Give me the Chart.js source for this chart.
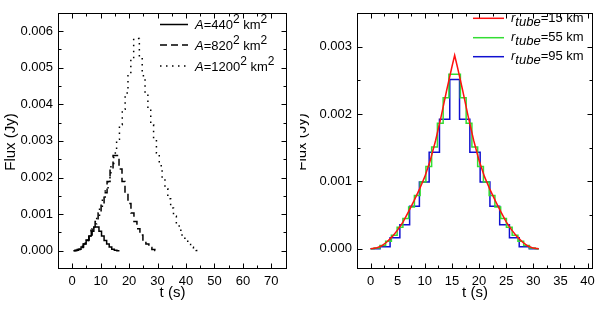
<!DOCTYPE html>
<html><head><meta charset="utf-8">
<script src="https://cdn.jsdelivr.net/npm/chart.js@4/dist/chart.umd.min.js"></script>
<style>
html,body{margin:0;padding:0;background:#fff;}
#wrap{position:relative;width:600px;height:310px;overflow:hidden;}
.pane{position:absolute;top:0;width:300px;height:310px;}
</style></head><body>
<div id="wrap">
<div class="pane" style="left:0"><canvas id="c1" width="300" height="310"></canvas></div>
<div class="pane" style="left:300px"><canvas id="c2" width="300" height="310"></canvas></div>
</div>
<script>
// ---------------- Left panel data ----------------
const areaSides = [440, 820, 1200];
const tSolid = [0.4,1.3,2.2,3.1,4.0,4.9,5.8,6.7,7.6,8.5,9.4,10.3,11.2,12.1,13.0,13.9,14.8,15.7,16.6];
const fSolid = [0,0.00001,0.00004,0.0001,0.00018,0.00028,0.0004,0.00053,0.00065,0.00065,0.00053,0.0004,0.00028,0.00018,0.0001,0.00004,0.00001,0,0];
const tDashed = [0.7,1.75,2.8,3.85,4.9,5.95,7.0,8.05,9.1,10.15,11.2,12.25,13.3,14.35,15.4,16.45,17.5,18.55,19.6,20.65,21.7,22.75,23.8,24.85,25.9,26.95,28.0,29.05,30.1];
const fDashed = [0.000004,0.00003,0.00009,0.00018,0.00029,0.00043,0.0006,0.0008,0.00103,0.00129,0.00158,0.00189,0.00223,0.0026,0.0026,0.00223,0.00189,0.00158,0.00129,0.00103,0.0008,0.0006,0.00043,0.00029,0.00018,0.00009,0.00003,0.000004,0];
const tDotted = [0.6,1.6,2.6,3.6,4.6,5.6,6.6,7.6,8.6,9.6,10.6,11.6,12.6,13.6,14.6,15.6,16.6,17.6,18.6,19.6,20.6,21.6,22.6,23.6,24.6,25.6,26.6,27.6,28.6,29.6,30.6,31.6,32.6,33.6,34.6,35.6,36.6,37.6,38.6,39.6,40.6,41.6,42.6,43.6,44.6];
const fDotted = [0.000007,0.000038,0.000093,0.000172,0.000277,0.000405,0.000559,0.000736,0.000939,0.001165,0.001417,0.001693,0.001993,0.002318,0.002667,0.003042,0.00344,0.003864,0.00431,0.004782,0.005279,0.0058,
                 0.0058,0.005279,0.004782,0.00431,0.003864,0.00344,0.003042,0.002667,0.002318,0.001993,0.001693,0.001417,0.001165,0.000939,0.000736,0.000559,0.000405,0.000277,0.000172,0.000093,0.000038,0.000007,0];
const leftXTicks = [0,10,20,30,40,50,60,70];
const leftYTicks = [0,0.001,0.002,0.003,0.004,0.005,0.006];

// ---------------- Right panel data ----------------
const tubeRadii = [15, 55, 95];
const tRed = [0,1,2,3,4,5,6,7,8,9,10,11,12,13,14,15,15.5,16,17,18,19,20,21,22,23,24,25,26,27,28,29,30,31];
const fRed = [0,0.00001,0.00004,0.0001,0.00018,0.00028,0.0004,0.00055,0.00071,0.00088,0.00107,0.00131,0.00161,0.00196,0.00234,0.0027,0.00287,0.0027,0.00234,0.00196,0.00161,0.00131,0.00107,0.00088,0.00071,0.00055,0.0004,0.00028,0.00018,0.0001,0.00004,0.00001,0];
const tGreen = [0,0.66,1.72,2.78,3.84,4.9,5.96,7.02,8.08,9.14,10.2,11.26,12.32,13.38,14.44,15.5,16.56,17.62,18.68,19.74,20.8,21.86,22.92,23.98,25.04,26.1,27.16,28.22,29.28,30.34,31];
const fGreen = [0,0.00001,0.00005,0.00011,0.0002,0.00032,0.00045,0.00062,0.00079,0.00099,0.00122,0.00151,0.00186,0.00224,0.00259,0.00259,0.00224,0.00186,0.00151,0.00122,0.00099,0.00079,0.00062,0.00045,0.00032,0.0002,0.00011,0.00005,0.00001,0,0];
const tBlue = [0,1.75,3.6,5.4,7.2,9.0,10.8,12.7,14.6,16.4,18.3,20.2,22.0,23.8,25.6,27.4,29.25,31];
const fBlue = [0,0.00003,0.000165,0.000355,0.00063,0.00099,0.00143,0.00192,0.00251,0.00192,0.00143,0.00099,0.00063,0.000355,0.000165,0.00003,0,0];
const rightXTicks = [0,5,10,15,20,25,30,35,40];
const rightYTicks = [0,0.001,0.002,0.003];

const FONT = "'Liberation Sans', Arial, sans-serif";
const pts = (ts, fs) => ts.map((t, i) => ({x: t, y: fs[i]}));

function drawRich(ctx, x, y, parts, size) {
  let cx = x;
  for (const p of parts) {
    const fs = p.sup ? size - 1 : size;
    ctx.font = (p.it ? 'italic ' : '') + fs + 'px ' + FONT;
    const dy = p.sup ? -5.5 : (p.sub ? 4 : 0);
    ctx.fillText(p.t, cx, y + dy);
    cx += ctx.measureText(p.t).width;
  }
}

const framePlugin = {
  id: 'frame',
  afterDatasetsDraw(chart, args, o) {
    const {ctx, chartArea: a, scales: {x, y}} = chart;
    ctx.save();
    ctx.strokeStyle = '#000';
    ctx.fillStyle = '#000';
    ctx.lineWidth = 1;
    const L = Math.round(a.left) + 0.5, R = Math.round(a.right) - 0.5;
    const T = Math.round(a.top) + 0.5, B = Math.round(a.bottom) - 0.5;
    ctx.strokeRect(L, T, R - L, B - T);
    const tick = (vals, len, horiz) => {
      ctx.beginPath();
      for (const v of vals) {
        if (horiz) {
          const px = Math.round(x.getPixelForValue(v)) + 0.5;
          if (px <= L + 1 || px >= R - 1) continue;
          ctx.moveTo(px, B); ctx.lineTo(px, B - len);
          ctx.moveTo(px, T); ctx.lineTo(px, T + len);
        } else {
          const py = Math.round(y.getPixelForValue(v)) + 0.5;
          if (py <= T + 1 || py >= B - 1) continue;
          ctx.moveTo(L, py); ctx.lineTo(L + len, py);
          ctx.moveTo(R, py); ctx.lineTo(R - len, py);
        }
      }
      ctx.stroke();
    };
    const minors = (maj, lo, hi) => {
      const step = maj[1] - maj[0], out = [];
      for (let i = -1; i < maj.length; i++) {
        const v = (i < 0 ? maj[0] - step : maj[i]) + step / 2;
        if (v > lo && v < hi) out.push(v);
      }
      return out;
    };
    tick(o.xTicks, 5, true);
    tick(minors(o.xTicks, x.min, x.max), 3, true);
    tick(o.yTicks, 5, false);
    tick(minors(o.yTicks, y.min, y.max), 3, false);

    // axis titles
    ctx.font = '15px ' + FONT;
    ctx.textBaseline = 'alphabetic';
    ctx.textAlign = 'center';
    ctx.fillText('t (s)', (a.left + a.right) / 2, 297);
    ctx.save();
    ctx.translate(o.yTitleX, 142);
    ctx.rotate(-Math.PI / 2);
    ctx.fillText('Flux (Jy)', 0, 0);
    ctx.restore();

    // legend
    ctx.textAlign = 'left';
    ctx.textBaseline = 'middle';
    chart.data.datasets.forEach((ds, i) => {
      const ly = o.legY[i];
      ctx.save();
      ctx.strokeStyle = ds.borderColor;
      ctx.lineWidth = ds.borderWidth;
      ctx.setLineDash(ds.borderDash || []);
      ctx.beginPath();
      ctx.moveTo(o.legX0, ly); ctx.lineTo(o.legX1, ly);
      ctx.stroke();
      ctx.restore();
      ctx.fillStyle = '#000';
      drawRich(ctx, o.legTX, ly + o.legDy, o.legParts(i), 13);
    });
    ctx.restore();
  }
};

function axes(xmin, xmax, xt, ymin, ymax, yt, yw) {
  const tickFont = {family: FONT, size: 13};
  const grid = {display: false, drawTicks: false, tickLength: 0};
  return {
    x: {type: 'linear', min: xmin, max: xmax,
        grid: grid, border: {display: false},
        ticks: {color: '#000', font: tickFont, padding: 5, maxRotation: 0, autoSkip: false,
                callback: v => String(v)},
        afterBuildTicks: s => { s.ticks = xt.map(v => ({value: v})); },
        afterFit: s => { s.height = 41; }},
    y: {type: 'linear', min: ymin, max: ymax,
        grid: grid, border: {display: false},
        ticks: {color: '#000', font: tickFont, padding: 5, autoSkip: false,
                callback: v => Number(v).toFixed(3)},
        afterBuildTicks: s => { s.ticks = yt.map(v => ({value: v})); },
        afterFit: s => { s.width = yw; }}
  };
}

const common = {
  responsive: false, animation: false, devicePixelRatio: 1,
  plugins: {legend: {display: false}, tooltip: {enabled: false}},
  elements: {point: {radius: 0}, line: {tension: 0}}
};

new Chart(document.getElementById('c1'), {
  type: 'line',
  data: {datasets: [
    {label: 'A=' + areaSides[0] + '² km²', data: pts(tSolid, fSolid), borderColor: '#000', borderWidth: 1.5, stepped: true},
    {label: 'A=' + areaSides[1] + '² km²', data: pts(tDashed, fDashed), borderColor: '#000', borderWidth: 1.5, borderDash: [7, 4], stepped: true},
    {label: 'A=' + areaSides[2] + '² km²', data: pts(tDotted, fDotted), borderColor: '#000', borderWidth: 1.5, borderDash: [1.5, 4.5], stepped: true}
  ]},
  options: Object.assign({}, common, {
    layout: {padding: {left: 0, right: 13, top: 3, bottom: 0}},
    scales: axes(-5, 75.5, leftXTicks, -0.0005, 0.0065, leftYTicks, 58),
    plugins: Object.assign({}, common.plugins, {frame: {
      xTicks: leftXTicks, yTicks: leftYTicks, yTitleX: 15,
      legX0: 160, legX1: 188, legTX: 195, legY: [24.5, 45, 66], legDy: 1,
      legParts: i => [{t: 'A', it: true}, {t: '=' + areaSides[i]}, {t: '2', sup: true}, {t: ' km'}, {t: '2', sup: true}]
    }})
  }),
  plugins: [framePlugin]
});

new Chart(document.getElementById('c2'), {
  type: 'line',
  data: {datasets: [
    {label: 'r_tube=' + tubeRadii[0] + ' km', data: pts(tRed, fRed), borderColor: '#ff1010', borderWidth: 1.5},
    {label: 'r_tube=' + tubeRadii[1] + ' km', data: pts(tGreen, fGreen), borderColor: '#33dd33', borderWidth: 1.5, stepped: true},
    {label: 'r_tube=' + tubeRadii[2] + ' km', data: pts(tBlue, fBlue), borderColor: '#1010d0', borderWidth: 1.5, stepped: true}
  ]},
  options: Object.assign({}, common, {
    layout: {padding: {left: 0, right: 7, top: 3, bottom: 0}},
    scales: axes(-2.5, 41, rightXTicks, -0.0003, 0.0035, rightYTicks, 57),
    plugins: Object.assign({}, common.plugins, {frame: {
      xTicks: rightXTicks, yTicks: rightYTicks, yTitleX: 5.5,
      legX0: 173, legX1: 204, legTX: 211, legY: [18.3, 37.7, 56.7], legDy: 0,
      legParts: i => [{t: 'r', it: true}, {t: 'tube', it: true, sub: true}, {t: '=' + tubeRadii[i] + ' km'}]
    }})
  }),
  plugins: [framePlugin]
});
</script>
</body></html>
